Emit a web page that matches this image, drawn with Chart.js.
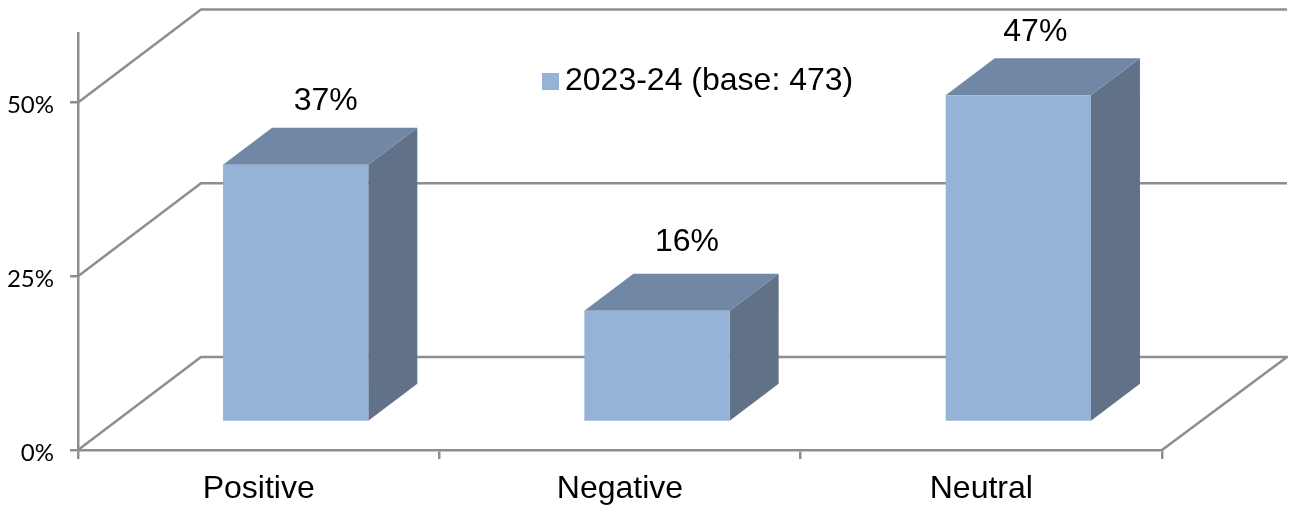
<!DOCTYPE html>
<html>
<head>
<meta charset="utf-8">
<title>2023-24 sentiment</title>
<script src="https://cdn.jsdelivr.net/npm/chart.js@4"></script>
<style>
    html, body { margin: 0; padding: 0; background: #fff; }
    canvas { display: block; }
</style>
</head>
<body>
<canvas id="chart" width="1289" height="506"></canvas>
<script>
// data
const categories = ['Positive', 'Negative', 'Neutral'];
const values = [37, 16, 47];
const seriesName = '2023-24 (base: 473)';
const yTicks = [0, 25, 50];

// colours
const frontColor = '#95b3d7';
const topColor = '#7087a6';
const sideColor = '#607188';
const lineColor = '#8e8e8e';

const textFont = 'Liberation Sans, Arial, sans-serif';

// the fake 3D: how far the walls and the bars sit back from the axis plane
const wallDepth = { left: 123, right: 125, up: 93 };
const barShift = { x: 37, y: -28 };
const barDepth = { x: 49, y: -37 };
// labels were dragged by hand in the original
const labelNudge = [{ x: 30, y: -64 }, { x: 30, y: -69 }, { x: 17, y: -63 }];

// legend square as a small canvas so the gap to the text can be tight
const legendSquare = document.createElement('canvas');
legendSquare.width = 21;
legendSquare.height = 17;
const squareCtx = legendSquare.getContext('2d');
squareCtx.fillStyle = frontColor;
squareCtx.fillRect(4, 0, 17, 17);

const barFaces = {
    id: 'barFaces',
    afterLayout(chart) {
        // move the legend into the gap between the bars, padding keeps the square inside its clip
        const legend = chart.legend;
        legend.left = 532;
        legend.right = 532 + legend.width;
        legend.top = 49.5;
        legend.bottom = 49.5 + legend.height;
    },
    beforeDatasetsDraw(chart) {
        const ctx = chart.ctx;
        const area = chart.chartArea;
        const y = chart.scales.y;

        // back wall lines and the diagonals going back to it
        ctx.save();
        ctx.strokeStyle = lineColor;
        ctx.lineWidth = 2.5;
        ctx.lineJoin = 'round';
        yTicks.forEach(tick => {
            const py = y.getPixelForValue(tick);
            ctx.beginPath();
            ctx.moveTo(area.left, py);
            ctx.lineTo(area.left + wallDepth.left, py - wallDepth.up);
            ctx.lineTo(area.right + wallDepth.right, py - wallDepth.up);
            if (tick === 0) {
                ctx.lineTo(area.right, py);
            }
            ctx.stroke();
        });
        ctx.restore();
    },
    beforeDatasetDraw(chart, args) {
        const ctx = chart.ctx;
        const meta = chart.getDatasetMeta(args.index);

        // side and top faces
        meta.data.forEach(bar => {
            const x1 = bar.x - bar.width / 2 + barShift.x;
            const x2 = bar.x + bar.width / 2 + barShift.x;
            const top = bar.y + barShift.y;
            const bottom = bar.base + barShift.y;

            ctx.fillStyle = sideColor;
            ctx.beginPath();
            ctx.moveTo(x2, top);
            ctx.lineTo(x2, bottom);
            ctx.lineTo(x2 + barDepth.x, bottom + barDepth.y);
            ctx.lineTo(x2 + barDepth.x, top + barDepth.y);
            ctx.closePath();
            ctx.fill();

            ctx.fillStyle = topColor;
            ctx.beginPath();
            ctx.moveTo(x1, top);
            ctx.lineTo(x2, top);
            ctx.lineTo(x2 + barDepth.x, top + barDepth.y);
            ctx.lineTo(x1 + barDepth.x, top + barDepth.y);
            ctx.closePath();
            ctx.fill();
        });

        // the front face is the normal bar, just moved back
        ctx.save();
        ctx.translate(barShift.x, barShift.y);
    },
    afterDatasetDraw(chart) {
        chart.ctx.restore();
    },
    afterDatasetsDraw(chart) {
        const ctx = chart.ctx;
        const meta = chart.getDatasetMeta(0);
        ctx.save();
        ctx.fillStyle = '#000';
        ctx.font = '32px ' + textFont;
        ctx.textAlign = 'center';
        ctx.textBaseline = 'middle';
        meta.data.forEach((bar, i) => {
            ctx.fillText(values[i] + '%', bar.x + barShift.x + labelNudge[i].x, bar.y + barShift.y + labelNudge[i].y);
        });
        ctx.restore();
    }
};

new Chart(document.getElementById('chart'), {
    type: 'bar',
    data: {
        labels: categories,
        datasets: [{
            label: seriesName,
            data: values,
            backgroundColor: frontColor,
            barPercentage: 0.402,
            categoryPercentage: 1,
            clip: false
        }]
    },
    options: {
        responsive: false,
        animation: false,
        layout: { padding: { top: 33, right: 127, left: 0, bottom: 0 } },
        plugins: {
            tooltip: { enabled: false },
            legend: {
                position: 'chartArea',
                align: 'start',
                labels: {
                    usePointStyle: true,
                    pointStyle: legendSquare,
                    pointStyleWidth: 1,
                    padding: 16,
                    color: '#000',
                    font: { family: textFont, size: 32 }
                }
            }
        },
        scales: {
            x: {
                afterFit: scale => { scale.height = 56; },
                border: { color: lineColor, width: 2.5 },
                grid: { drawOnChartArea: false, color: lineColor, lineWidth: 2.5, tickLength: 9, offset: true },
                ticks: {
                    color: '#000',
                    padding: 11,
                    maxRotation: 0,
                    font: { family: textFont, size: 32 }
                }
            },
            y: {
                min: 0,
                max: 60,
                afterFit: scale => { scale.width = 78; },
                afterBuildTicks: scale => { scale.ticks = yTicks.map(value => ({ value })); },
                border: { color: lineColor, width: 2.5 },
                grid: { drawOnChartArea: false, color: lineColor, lineWidth: 2.5, tickLength: 8 },
                ticks: {
                    color: '#000',
                    padding: 16,
                    labelOffset: 3,
                    callback: value => value + '%',
                    font: { family: 'Lato, sans-serif', size: 24 }
                }
            }
        }
    },
    plugins: [barFaces]
});
</script>
</body>
</html>
